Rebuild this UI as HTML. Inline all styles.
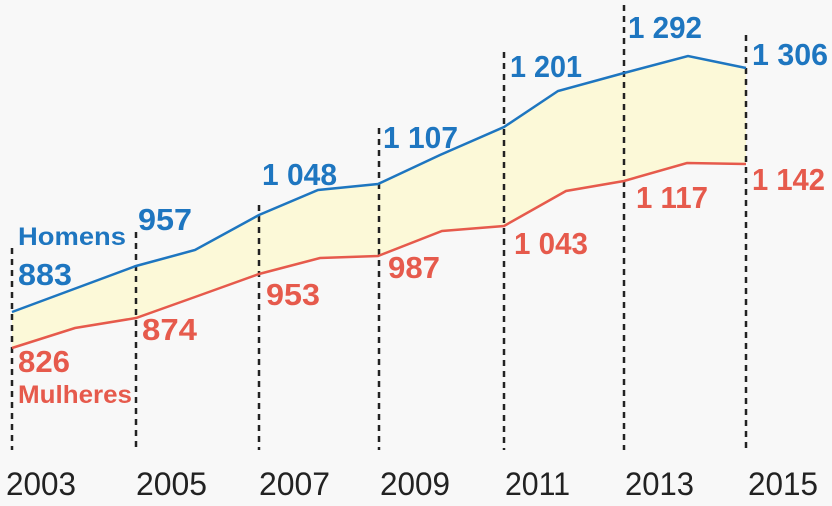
<!DOCTYPE html>
<html><head><meta charset="utf-8"><style>
html,body{margin:0;padding:0;background:#f8f8f8;}
svg{display:block;}
text{font-family:"Liberation Sans",Arial,sans-serif;}
.b{fill:#1e76c0;font-weight:bold;font-size:31px;}
.r{fill:#e65a4c;font-weight:bold;font-size:31px;}
.y{fill:#222;font-size:32px;}
</style></head><body>
<svg width="832" height="506" viewBox="0 0 832 506">
<rect width="832" height="506" fill="#f8f8f8"/>
<polygon fill="#fcf9d8" points="12,312 136,266 195,250 259,215 318,190 378,184 440,155 504,127 558,91 624,73 688,56 746,68 746,164 687,163 624,181 566,191 504,226 442,231 378,256 320,258 259,274 195,297 136,318 75,328 12,348"/>
<g stroke="#222" stroke-width="2.5" stroke-dasharray="6,5">
<line x1="12" y1="248" x2="12" y2="450"/>
<line x1="136" y1="232" x2="136" y2="450"/>
<line x1="259" y1="205" x2="259" y2="450"/>
<line x1="379" y1="128" x2="379" y2="450"/>
<line x1="504" y1="52" x2="504" y2="450"/>
<line x1="624" y1="5" x2="624" y2="450"/>
<line x1="746" y1="35" x2="746" y2="450"/>
</g>
<polyline fill="none" stroke="#1e76c0" stroke-width="2.5" points="12,312 136,266 195,250 259,215 318,190 378,184 440,155 504,127 558,91 624,73 688,56 746,68"/>
<polyline fill="none" stroke="#e65a4c" stroke-width="2.5" points="12,348 75,328 136,318 195,297 259,274 320,258 378,256 442,231 504,226 566,191 624,181 687,163 746,164"/>
<g lengthAdjust="spacingAndGlyphs">
<text class="b" x="18" y="245" style="font-size:25px" textLength="108" lengthAdjust="spacingAndGlyphs">Homens</text>
<text class="b" x="18" y="285" textLength="54" lengthAdjust="spacingAndGlyphs">883</text>
<text class="b" x="138" y="230" textLength="54" lengthAdjust="spacingAndGlyphs">957</text>
<text class="b" x="262" y="185" textLength="75" lengthAdjust="spacingAndGlyphs">1 048</text>
<text class="b" x="383" y="148" textLength="75" lengthAdjust="spacingAndGlyphs">1 107</text>
<text class="b" x="510" y="77" textLength="72" lengthAdjust="spacingAndGlyphs">1 201</text>
<text class="b" x="628" y="38" textLength="74" lengthAdjust="spacingAndGlyphs">1 292</text>
<text class="b" x="752" y="65" textLength="76" lengthAdjust="spacingAndGlyphs">1 306</text>
<text class="r" x="18" y="372" textLength="52" lengthAdjust="spacingAndGlyphs">826</text>
<text class="r" x="18" y="403" style="font-size:25px" textLength="114" lengthAdjust="spacingAndGlyphs">Mulheres</text>
<text class="r" x="142" y="340" textLength="55" lengthAdjust="spacingAndGlyphs">874</text>
<text class="r" x="266" y="305" textLength="54" lengthAdjust="spacingAndGlyphs">953</text>
<text class="r" x="388" y="278" textLength="52" lengthAdjust="spacingAndGlyphs">987</text>
<text class="r" x="514" y="254" textLength="74" lengthAdjust="spacingAndGlyphs">1 043</text>
<text class="r" x="636" y="208" textLength="72" lengthAdjust="spacingAndGlyphs">1 117</text>
<text class="r" x="752" y="190" textLength="73" lengthAdjust="spacingAndGlyphs">1 142</text>
<text class="y" x="6" y="495" textLength="70" lengthAdjust="spacingAndGlyphs">2003</text>
<text class="y" x="136" y="495" textLength="71" lengthAdjust="spacingAndGlyphs">2005</text>
<text class="y" x="259" y="495" textLength="71" lengthAdjust="spacingAndGlyphs">2007</text>
<text class="y" x="380" y="495" textLength="70" lengthAdjust="spacingAndGlyphs">2009</text>
<text class="y" x="505" y="495" textLength="65" lengthAdjust="spacingAndGlyphs">2011</text>
<text class="y" x="625" y="495" textLength="69" lengthAdjust="spacingAndGlyphs">2013</text>
<text class="y" x="748" y="495" textLength="70" lengthAdjust="spacingAndGlyphs">2015</text>
</g>
</svg>
</body></html>
